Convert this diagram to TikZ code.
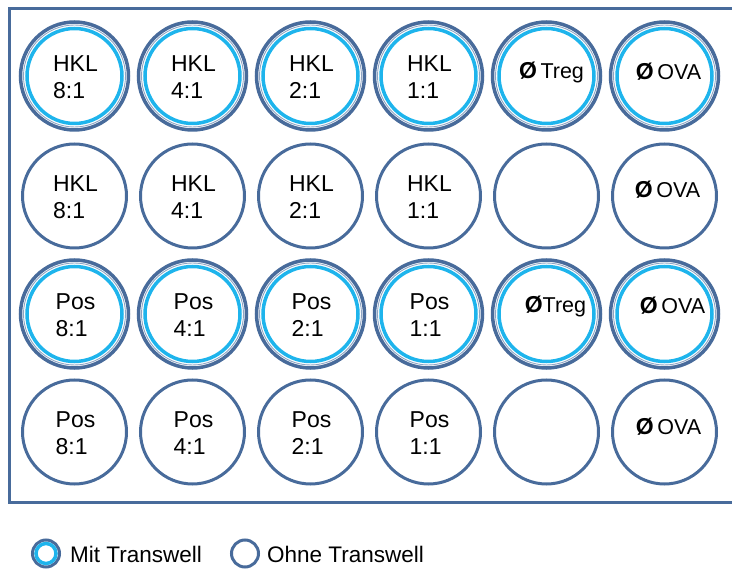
\documentclass[tikz,border=0pt]{standalone}
\usepackage{fontspec}
\setmainfont{Liberation Sans}
\definecolor{wellblue}{HTML}{486B9B}
\definecolor{wellgray}{HTML}{8FA5C3}
\definecolor{wellcyan}{HTML}{1EB4EC}
\newcommand{\nullsym}{{\fontsize{23}{23}\selectfont\bfseries Ø}}
\tikzset{
  plainwell/.style={circle, draw=wellblue, line width=3pt, minimum size=104pt, inner sep=0pt},
  transwell/.style={circle, draw=wellblue, line width=3.5pt, minimum size=108pt, inner sep=0pt},
  cyanring/.style={draw=wellcyan, line width=3.5pt},
  grayring/.style={draw=wellgray, line width=0.9pt},
  welltext/.style={align=left, font=\fontsize{23}{27}\selectfont, text=black, inner sep=0pt},
  nulltext/.style={font=\fontsize{21.5}{25}\selectfont, text=black, inner sep=0pt},
  frameline/.style={draw=wellblue, line width=3pt},
  legtw/.style={circle, draw=wellblue, line width=3pt, minimum size=27pt, inner sep=0pt},
  legtext/.style={font=\fontsize{22.5}{26}\selectfont, text=black, anchor=west, inner sep=0pt}
}
\begin{document}
\begin{tikzpicture}[x=1pt,y=-1pt]
\useasboundingbox (0,0) rectangle (732,569);
% frame
\coordinate (ftr) at (732,9);
\coordinate (ftl) at (9,9);
\coordinate (fbl) at (9,503);
\coordinate (fbr) at (732,503);
\draw[frameline] (ftr) -- (ftl) -- (fbl) -- (fbr);
% wells
\foreach \r/\y/\kind in {1/76/transwell,2/196/plainwell,3/314/transwell,4/432/plainwell}{
  \foreach \c in {1,...,6}{
    \node[\kind] (w\r\c) at ({74.5+118*(\c-1)},\y) {};
  }
}
\foreach \r in {1,3}{
  \foreach \c in {1,...,6}{
    \draw[grayring] (w\r\c.center) circle (51);
    \draw[cyanring] (w\r\c.center) circle (47.5);
  }
}
% labels
\foreach \r/\name in {1/HKL,2/HKL,3/Pos,4/Pos}{
  \foreach \c/\ratio in {1/8:1,2/4:1,3/2:1,4/1:1}{
    \node[welltext] (t\r\c) at ([xshift=1pt,yshift=-1pt]w\r\c.center) {\name\\\ratio};
  }
}
\node[nulltext] (t15) at ([xshift=5pt,yshift=4pt]w15.center) {\nullsym\,Treg};
\node[nulltext] (t35) at ([xshift=9pt,yshift=8pt]w35.center) {\nullsym Treg};
\node[nulltext] (t16) at ([xshift=4pt,yshift=4pt]w16.center) {\nullsym\,OVA};
\node[nulltext] (t26) at ([xshift=3pt,yshift=6pt]w26.center) {\nullsym\,OVA};
\node[nulltext] (t36) at ([xshift=8pt,yshift=8pt]w36.center) {\nullsym\,OVA};
\node[nulltext] (t46) at ([xshift=4pt,yshift=5pt]w46.center) {\nullsym\,OVA};
% legend
\node[legtw] (lmit) at (46,553.5) {};
\draw[draw=wellcyan, line width=3.5pt] (lmit.center) circle (10);
\node[legtext] (lmittext) at (70,554) {Mit Transwell};
\node[legtw] (lohne) at (245,553.5) {};
\node[legtext] (lohnetext) at (267,554) {Ohne Transwell};
\end{tikzpicture}
\end{document}
